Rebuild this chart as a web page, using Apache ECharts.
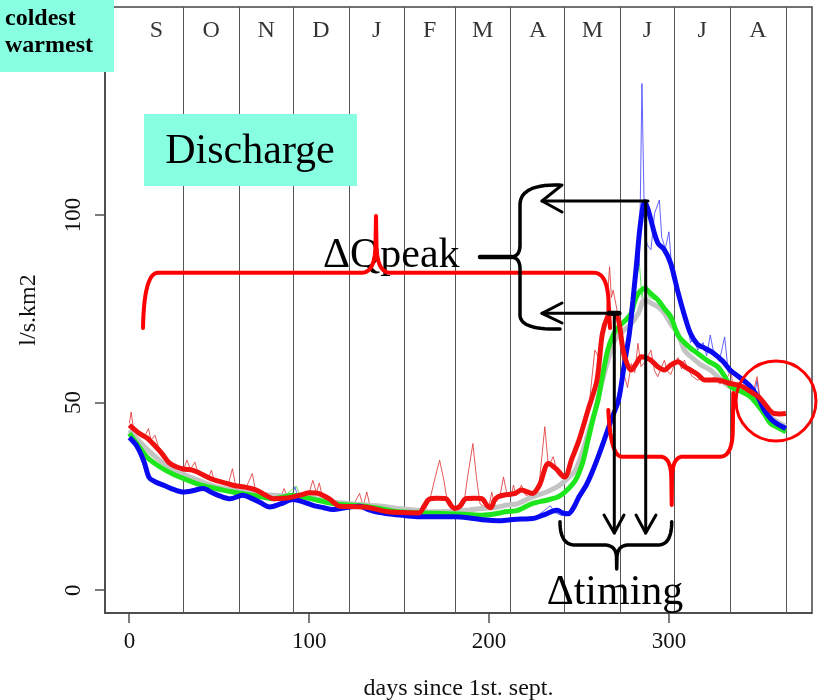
<!DOCTYPE html>
<html>
<head>
<meta charset="utf-8">
<script src="https://cdn.jsdelivr.net/npm/echarts@6/dist/echarts.min.js"></script>
<style>
html, body { margin: 0; padding: 0; background: #fff; }
#main { width: 818px; height: 700px; }
</style>
</head>
<body>
<div id="main"></div>
<script>
// month boundaries (days since 1st sept) and labels
const monthNames = ['S', 'O', 'N', 'D', 'J', 'F', 'M', 'A', 'M', 'J', 'J', 'A'];
const monthEnds = [30, 61, 91, 122, 153, 181, 212, 242, 273, 303, 334, 365];
const xTicks = [0, 100, 200, 300];
const yTicks = [0, 50, 100];

// smoothed discharge, [day, l/s.km2]
const blueThick = [[0,40.7],[4,38.5],[8,34.5],[11,30],[14,29],[20,27.8],[25,26.8],[30,26.2],[35,26.5],[41,27.1],[46,26],[51,25],[56,24.4],[63,25.3],[68,24.5],[73,23.3],[78,22.2],[84,23],[91,24.2],[97,23.5],[103,22.5],[108,22],[113,21.5],[120,22],[128,22.4],[133,21.5],[137,20.9],[145,20.3],[153,19.9],[161,19.6],[170,19.6],[181,19.6],[190,19.2],[198,18.7],[205,18.5],[212,18.8],[218,19],[224,19.1],[230,20],[235,21],[238,21.3],[241,20.6],[244,20.4],[247,22],[250,24.9],[254,28],[257,31.1],[261,36],[264,40],[268,45.5],[272,50.7],[275,59.6],[278,68.4],[280,77.3],[282,87],[284,97],[286.5,103.5],[288,102],[290,98.7],[292,95],[294,92.4],[297.5,90.7],[301,87.1],[305,79.5],[308.5,73.5],[312,68.4],[316,65.5],[320,64.5],[325,63.1],[330,61],[334,58.7],[340,56.5],[345.5,54.2],[350,51],[353,48],[357,45.5],[360,44.4],[365,43.1]];
const redThick = [[0,44],[5,42],[10,40.5],[13,39.1],[18,36.5],[22,34],[26,32.9],[30,32.3],[35,32],[40,31],[45,29.8],[50,29],[57.6,28],[64,27.5],[70.5,26.7],[75,25.5],[80,24.4],[86,24.5],[91,24.9],[96,25.5],[100,26],[105,25.8],[111,24.4],[117,22.4],[124,22.3],[131,22.2],[138,21.5],[144,20.9],[152,20.7],[161,20.6],[164,22.5],[166.5,24.2],[171,24.5],[176,24.4],[179,22.5],[181,21.8],[184,22.5],[187,24.4],[192,24.5],[196,24.4],[199,22.5],[201,22],[203,24],[205,24.9],[210,25.5],[214.5,25.8],[218,26.7],[224,25.8],[228,28],[233,33.8],[237,32.5],[242,30.2],[246,35],[250,40],[255,48],[260,56],[263,68.4],[266,73],[268,73.8],[270,73.5],[272,72],[274.5,64],[277,60],[279,58.7],[282,60.5],[284.6,62.2],[287,62],[290,61.3],[294,59.5],[297.5,58.7],[301,60],[305,60.9],[309,59.5],[312,58.7],[316,57.5],[320,56],[327,56],[334,55.1],[340,54.5],[345.5,52.9],[350,51.5],[353,49.8],[356,48],[358.5,47.1],[362,47],[365,47.1]];
const greenThick = [[0,41.8],[5,38.5],[9.6,35.6],[15,33.5],[20,32],[25,30.8],[30,29.8],[40,28],[52,26.7],[60,26],[70,25.2],[80,24.4],[85,24.8],[91,25.3],[100,24.5],[113,23.1],[120,22.8],[131,22.4],[140,21.7],[150,20.9],[165,20.6],[177.6,20.4],[188,20.2],[196,20],[205,20.5],[210,21],[216,21.3],[224,23.1],[232,24],[238.5,24.9],[243,26.5],[248,29.3],[252,34],[255,40],[258,46],[260.6,50.7],[263,57],[266,64],[269,68],[272,70.2],[276,72],[279,73.8],[281,77],[283,79.1],[286.5,80.4],[290,79],[294,77.3],[297.5,75],[301,72.9],[305,68],[308.6,66],[312,64.5],[316,63.1],[322,61],[327,59.6],[331,57],[334.5,54.2],[340,53],[345.5,51.5],[350,49],[353,47],[356.6,44.4],[360,43.5],[365,42.2]];
const greyThick = [[0,42.7],[5,40],[11.4,36.9],[20,33.5],[30,31],[40,29],[48,27.6],[60,26.5],[70,25.8],[80,25.3],[87,25.2],[94.5,25.3],[100,24.8],[113,23.5],[125,23],[138,22.5],[150,21.8],[160,21.3],[168,20.9],[177,21],[187,21.3],[196,21.8],[205,22.2],[210,22.7],[216,23.1],[224,24.9],[232,26.2],[238,27.6],[243,29.5],[248,32],[252,37],[255,41.8],[259,48],[262.6,55.1],[266,61],[270,66.7],[275,69.3],[279,71],[283,73.8],[286.5,77.5],[290,76.5],[294,75.5],[297.5,73.8],[301,71],[305,68.4],[308.6,64],[314,61.5],[318,60],[323,58.7],[328,56.5],[334,54.2],[340,53.5],[345.5,52.9],[350,50],[353,48.5],[356.6,46.2],[360,45],[365,43.6]];

// raw daily discharge (thin lines)
const blueThin = [[0,41.5],[2,40.5],[4,38],[6,35.5],[8,33],[10,30],[12,29.2],[15,28.6],[18,28],[22,27],[26,26.2],[30,26.5],[34,26.8],[38,27.5],[42,26.8],[46,25.8],[50,25.2],[54,24.6],[58,24.8],[62,25.6],[66,24.8],[70,23.8],[74,23],[78,22.4],[82,22.6],[86,23.3],[90,24.8],[92,27.5],[94,24.6],[98,23.6],[102,22.8],[106,22.3],[110,21.8],[114,21.4],[118,21.8],[122,22.6],[126,23],[130,22.2],[134,21.3],[138,20.8],[142,20.5],[148,20.1],[154,19.8],[160,19.7],[166,19.5],[172,19.8],[178,19.5],[184,19.4],[190,19.1],[196,18.7],[200,18.4],[205,18.2],[210,18.6],[214,18.9],[218,19.2],[222,19],[226,19.6],[230,21],[234,22.5],[237,20.6],[240,20],[243,19.8],[246,21.5],[249,24],[252,26.5],[255,29],[258,33],[261,37],[264,41],[267,44],[270,49],[272,53],[274,57],[276,62],[278,69],[280,78],[282,84],[283.6,87],[285,135],[286.5,95],[288,92],[290,90.7],[292,100.4],[294.7,104],[296,94],[298,91],[300,95.5],[302,83],[304,82],[306,77],[308,74],[310,72],[312,66],[314,67],[316,64],[319,66],[321,62.5],[323,68],[325,63],[328,61],[331,67.5],[333,58],[336,57.5],[339,57],[342,55],[345,54.5],[348,53],[349,56],[351,49],[354,47],[356,46],[358,45],[360,44],[362,43.5],[365,42.5]];
const redThin = [[0,44.5],[1,47.5],[2,44],[4,42.5],[6,41],[8,40.5],[10.6,43.1],[12,40],[14.2,41.3],[16,38.5],[18,37],[20,35.5],[22,34.5],[24,33.5],[26,33],[28,32.5],[30,32],[32,34.7],[34,32.2],[36.4,34.2],[38,31.5],[40,31],[42,30.5],[44,30],[45.6,32],[47,29.5],[50,29],[53,28.5],[55,28.2],[57.3,32.4],[59,28],[62,27.8],[65,27.5],[68.3,31.1],[70,27],[73,26],[76,25.4],[79,24.8],[82,24.6],[84,24.5],[86,27.1],[88,24.8],[91,25],[94,25.2],[97,25.5],[100,26],[102,29.3],[104,26],[105.6,28.6],[107,25.5],[110,24.5],[113,23.5],[116,22.6],[120,22.3],[124,22.2],[128,25.8],[130,22.3],[132,26.2],[134,22],[138,21.4],[142,21],[146,20.8],[150,20.7],[155,20.6],[160,20.5],[164,21],[167,24],[170,30],[172.5,34.7],[175,29],[177,23],[180,21.5],[184,21.6],[186,23],[188,30],[191,39.1],[193,30],[195,23],[198,22],[200,22.5],[201.5,26.2],[203,23],[206,25],[208,30.2],[210,25.5],[212,24.8],[213.6,28],[215,25.2],[218,28],[220,25.5],[222,25],[225,26.5],[228,29],[231,43.6],[233,33],[235.7,35.6],[238,31],[240,30],[242,29.5],[244,32],[246,34],[248,37.5],[250,40],[252,43],[254,46],[256,51],[258.8,64],[261,62],[263,70],[265,72],[267,86.2],[268,78],[269,80],[271,75],[273,66],[275.4,56.9],[277,54],[279,60.4],[281,58],[282.8,65.8],[284.5,59.6],[287,61],[290,64],[292,58.5],[293.8,56.9],[295.5,59],[297.5,61.3],[299,58.5],[301,57.5],[303,60],[305,62],[307,59],[308.6,61.3],[311,58.5],[313,57],[316,56],[319,56.5],[322,55.5],[325,56.8],[328,55],[331,55.3],[334.5,58.7],[336,52.4],[339,54.5],[342,53.8],[345,52.5],[347,53],[349,56.9],[351,50],[353,49.5],[355,48],[357,46.8],[359,47.5],[361,46.5],[363,47.2],[365,46.8]];
const greenThin = [[0,42.5],[3,40],[6,37],[9,35.5],[14,33.8],[20,32.3],[28,30],[36,28.5],[46,27.2],[56,26.3],[66,25.6],[76,24.6],[86,25],[92.7,27.8],[95,25.2],[105,24],[115,23],[125,22.6],[135,22],[145,21.3],[155,20.8],[165,20.6],[175,20.4],[185,20.2],[195,20],[205,20.4],[215,21.2],[225,23.2],[235,24.5],[242,25.8],[248,29],[253,36],[257,44],[261,52],[264,60],[267,66],[270,70],[274,70.5],[278,74],[281,80],[283.6,87],[285,78],[287,83],[289,78],[292,77.5],[296,76],[300,73],[304,69],[308,66.5],[312,64.5],[316,63],[321,61],[326,60],[331,57],[335,53.5],[340,53.2],[345,51],[350,49.5],[354,46],[358,44],[361,43],[365,42]];

const serif = '"Liberation Serif", "DejaVu Serif", serif';
const aqua = '#88FFE0';
const xMin = -13.56, xMax = 379.56, yMin = -6.05, yMax = 155.4;
const gridBox = { left: 105, right: 6, top: 7, bottom: 87 };

function quad(p0, c, p1) {
  const pts = [];
  for (let i = 0; i <= 14; i++) {
    const t = i / 14, u = 1 - t;
    pts.push([u*u*p0[0] + 2*u*t*c[0] + t*t*p1[0], u*u*p0[1] + 2*u*t*c[1] + t*t*p1[1]]);
  }
  return pts;
}
function join() {
  let out = [];
  for (const a of arguments) out = out.concat(a);
  return out;
}
function poly(points, color, w) {
  return { type: 'polyline', z: 110, shape: { points: points },
    style: { stroke: color, lineWidth: w, fill: null, lineJoin: 'round', lineCap: 'round' } };
}
function txt(s, x, y, size, align, bold) {
  return { type: 'text', z: 105, style: { text: s, x: x, y: y, fill: '#000',
    font: (bold ? 'bold ' : '') + size + 'px ' + serif,
    textAlign: align, align: align, textVerticalAlign: 'middle', verticalAlign: 'middle' } };
}

const chart = echarts.init(document.getElementById('main'));

const monthMid = monthNames.map((m, i) => [((i ? monthEnds[i - 1] : 0) + monthEnds[i]) / 2, 149.2]);

function thick(name, data, color) {
  return { name: name, type: 'line', data: data, showSymbol: false, smooth: 0.3,
    lineStyle: { color: color, width: 5 }, itemStyle: { color: color }, z: 5 };
}
function thin(name, data, color) {
  return { name: name, type: 'line', data: data, showSymbol: false,
    lineStyle: { color: color, width: 1 }, itemStyle: { color: color }, z: 4 };
}

// outward tick marks on their own top layer, placed with the grid's linear scales
const W = 818 - gridBox.left - gridBox.right, H = 700 - gridBox.top - gridBox.bottom;
const axisBottom = gridBox.top + H, axisLeft = gridBox.left;
const tickMarks = [];
xTicks.forEach(v => {
  const px = Math.round(gridBox.left + (v - xMin) / (xMax - xMin) * W);
  tickMarks.push({ type: 'rect', zlevel: 2, z: 200, silent: true,
    shape: { x: px - 0.7, y: axisBottom, width: 1.4, height: 10 }, style: { fill: '#444' } });
});
yTicks.forEach(v => {
  const py = Math.round(axisBottom - (v - yMin) / (yMax - yMin) * H);
  tickMarks.push({ type: 'rect', zlevel: 2, z: 200, silent: true,
    shape: { x: axisLeft - 10, y: py - 0.7, width: 10, height: 1.4 }, style: { fill: '#444' } });
});

// annotation shapes
const red = '#ff0000';
const ink = '#000000';
const topBrace = join(
  quad([143, 328], [144, 273], [158, 272.7]),
  [[362, 272.7]],
  quad([362, 272.7], [375, 272.7], [375.5, 245]),
  [[376, 216]],
  quad([376.5, 245], [377, 272.7], [390, 272.7]),
  [[594, 272.7]],
  quad([594, 272.7], [607, 273], [608.5, 300]),
  [[610, 328]]
);
const lowBrace = join(
  quad([608.3, 410], [610.5, 456.7], [622, 456.7]),
  [[660, 456.7]],
  quad([660, 456.7], [671, 456.7], [671.3, 478]),
  [[671.7, 505]],
  quad([672, 478], [672.3, 456.7], [683, 456.7]),
  [[720, 456.7]],
  quad([720, 456.7], [732.5, 456.7], [732.8, 430]),
  [[733.3, 393]]
);
const peakBrace = join(
  quad([560, 185], [520, 184], [520, 205]),
  [[520, 245]],
  quad([520, 245], [520, 256.5], [511, 257]),
  quad([511, 257], [520, 257.5], [520, 269]),
  [[520, 315]],
  quad([520, 315], [520, 330], [560, 329])
);
const timeBrace = join(
  quad([560, 521.7], [560, 545], [575, 545]),
  [[604, 545]],
  quad([604, 545], [616, 545], [616.5, 557]),
  [[616.7, 569]],
  quad([617, 557], [617.4, 545], [629, 545]),
  [[658, 545]],
  quad([658, 545], [671.7, 545], [671.7, 521.7])
);

const graphics = [
  { type: 'rect', z: 100, shape: { x: 0, y: 0, width: 114, height: 72 }, style: { fill: aqua } },
  txt('coldest', 5, 18.5, 24, 'left', true),
  txt('warmest', 5, 45.5, 24, 'left', true),
  { type: 'rect', z: 100, shape: { x: 144, y: 114, width: 213, height: 72 }, style: { fill: aqua } },
  txt('Discharge', 250, 151.5, 42, 'center', false),
  txt('\u0394Qpeak', 323, 256, 42, 'left', false),
  txt('\u0394timing', 615, 592.5, 42, 'center', false),
  poly(topBrace, red, 4),
  poly(lowBrace, red, 4),
  { type: 'circle', z: 110, shape: { cx: 776, cy: 401, r: 40 }, style: { fill: null, stroke: red, lineWidth: 3 } },
  poly(peakBrace, ink, 3.5),
  poly([[480, 257], [512, 257]], ink, 4.5),
  poly(timeBrace, ink, 3.5),
  poly([[648, 201], [542, 201]], ink, 3),
  poly([[562, 185], [542, 201], [562, 212]], ink, 3),
  poly([[645.7, 201], [645.7, 533]], ink, 3),
  poly([[636, 515], [645.7, 533], [656, 515]], ink, 3),
  poly([[618, 313.3], [542, 313.3]], ink, 3),
  poly([[562, 303], [542, 313.3], [562, 323]], ink, 3),
  poly([[614.3, 313.3], [614.3, 533]], ink, 3),
  poly([[604, 515], [614.3, 533], [624, 515]], ink, 3),
  poly([[609, 313.3], [619, 313.3]], ink, 5)
].concat(tickMarks);

const option = {
  animation: false,
  backgroundColor: '#fff',
  grid: { left: gridBox.left, right: gridBox.right, top: gridBox.top, bottom: gridBox.bottom,
    containLabel: false, outerBoundsMode: 'none',
    show: true, borderColor: '#444', borderWidth: 1.5 },
  xAxis: {
    type: 'value', min: xMin, max: xMax,
    name: 'days since 1st. sept.', nameLocation: 'middle', nameGap: 64,
    nameTextStyle: { fontFamily: serif, fontSize: 24, color: '#111' },
    axisLine: { show: true, onZero: false, lineStyle: { color: '#444', width: 1.5 } },
    splitLine: { show: false },
    axisTick: { show: false },
    axisLabel: { customValues: xTicks, margin: 17, fontFamily: serif, fontSize: 23, color: '#111' }
  },
  yAxis: {
    type: 'value', min: yMin, max: yMax,
    name: 'l/s.km2', nameLocation: 'middle', nameGap: 64,
    nameTextStyle: { fontFamily: serif, fontSize: 24, color: '#111' },
    axisLine: { show: true, onZero: false, lineStyle: { color: '#444', width: 1.5 } },
    splitLine: { show: false },
    axisTick: { show: false },
    axisLabel: { customValues: yTicks, rotate: 90, margin: 20, fontFamily: serif, fontSize: 23, color: '#111' }
  },
  series: [
    { type: 'line', data: [], silent: true, z: 1,
      markLine: { silent: true, symbol: 'none', label: { show: false },
        lineStyle: { color: '#555', width: 1, type: 'solid' },
        data: monthEnds.map(d => ({ xAxis: d })) } },
    { type: 'scatter', data: monthMid, symbolSize: 1, silent: true, z: 6,
      itemStyle: { color: 'rgba(0,0,0,0)' },
      label: { show: true, position: 'inside', formatter: p => monthNames[p.dataIndex],
        fontFamily: serif, fontSize: 24, color: '#000' } },
    thin('green raw', greenThin, 'rgba(60,220,60,0.8)'),
    thin('blue raw', blueThin, 'rgba(70,70,255,0.85)'),
    thin('red raw', redThin, 'rgba(225,60,60,0.85)'),
    thick('grey', greyThick, '#c4c4c4'),
    thick('green', greenThick, '#1de61d'),
    thick('blue', blueThick, '#0a0af0'),
    thick('red', redThick, '#f01010')
  ],
  graphic: graphics
};
chart.setOption(option);
</script>
</body>
</html>
